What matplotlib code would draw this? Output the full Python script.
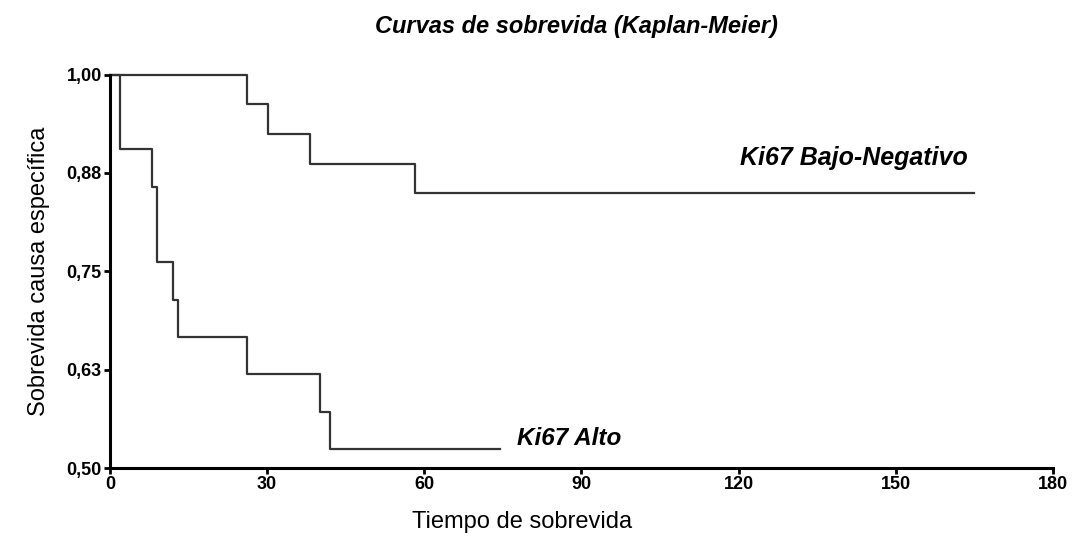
import matplotlib
matplotlib.use("Agg")
import matplotlib.pyplot as plt

# Kaplan-Meier steps (time, survival after the drop)
bajo_t = [0, 26.1, 30.2, 38.2, 58.2, 165]
bajo_s = [1.0, 0.962, 0.924, 0.886, 0.849, 0.849]

alto_t = [0, 1.9, 8.0, 9.0, 12.1, 12.9, 26.1, 40.1, 42.0, 74.4]
alto_s = [1.0, 0.905, 0.857, 0.762, 0.714, 0.667, 0.619, 0.571, 0.524, 0.524]

x_ticks = [0, 30, 60, 90, 120, 150, 180]
y_ticks = [0.5, 0.625, 0.75, 0.875, 1.0]
y_labels = ["0,50", "0,63", "0,75", "0,88", "1,00"]

plt.rcParams["font.family"] = ["Liberation Sans", "DejaVu Sans"]

fig = plt.figure(figsize=(10.74, 5.44), dpi=100)
ax = fig.add_axes([0.1024, 0.1397, 0.878, 0.7233])

ax.step(bajo_t, bajo_s, where="post", color="#333333", lw=1.6, clip_on=False)
ax.step(alto_t, alto_s, where="post", color="#333333", lw=1.6, clip_on=False)

ax.text(120.2, 0.894, "Ki67 Bajo-Negativo", fontsize=18, fontweight="bold",
        fontstyle="italic", va="center", ha="left")
ax.text(77.7, 0.537, "Ki67 Alto", fontsize=17.5, fontweight="bold",
        fontstyle="italic", va="center", ha="left")

ax.set_xlim(0, 180)
ax.set_ylim(0.5, 1.0)
ax.set_xticks(x_ticks)
ax.set_yticks(y_ticks)
ax.set_yticklabels(y_labels)
for lab in ax.get_xticklabels() + ax.get_yticklabels():
    lab.set_fontweight("bold")
ax.tick_params(direction="out", length=4, width=2, labelsize=13, pad=2)

for side in ("top", "right"):
    ax.spines[side].set_visible(False)
for side in ("left", "bottom"):
    ax.spines[side].set_linewidth(2.2)

ax.set_ylabel("Sobrevida causa específica", fontsize=17, labelpad=12)

# x label sits left of the axes centre in the original
fig.text(0.486, 0.04, "Tiempo de sobrevida", fontsize=17, ha="center", va="center")

fig.text(0.537, 0.952, "Curvas de sobrevida (Kaplan-Meier)", fontsize=17,
         fontweight="bold", fontstyle="italic", ha="center", va="center")

fig.savefig("out.png", dpi=100)
